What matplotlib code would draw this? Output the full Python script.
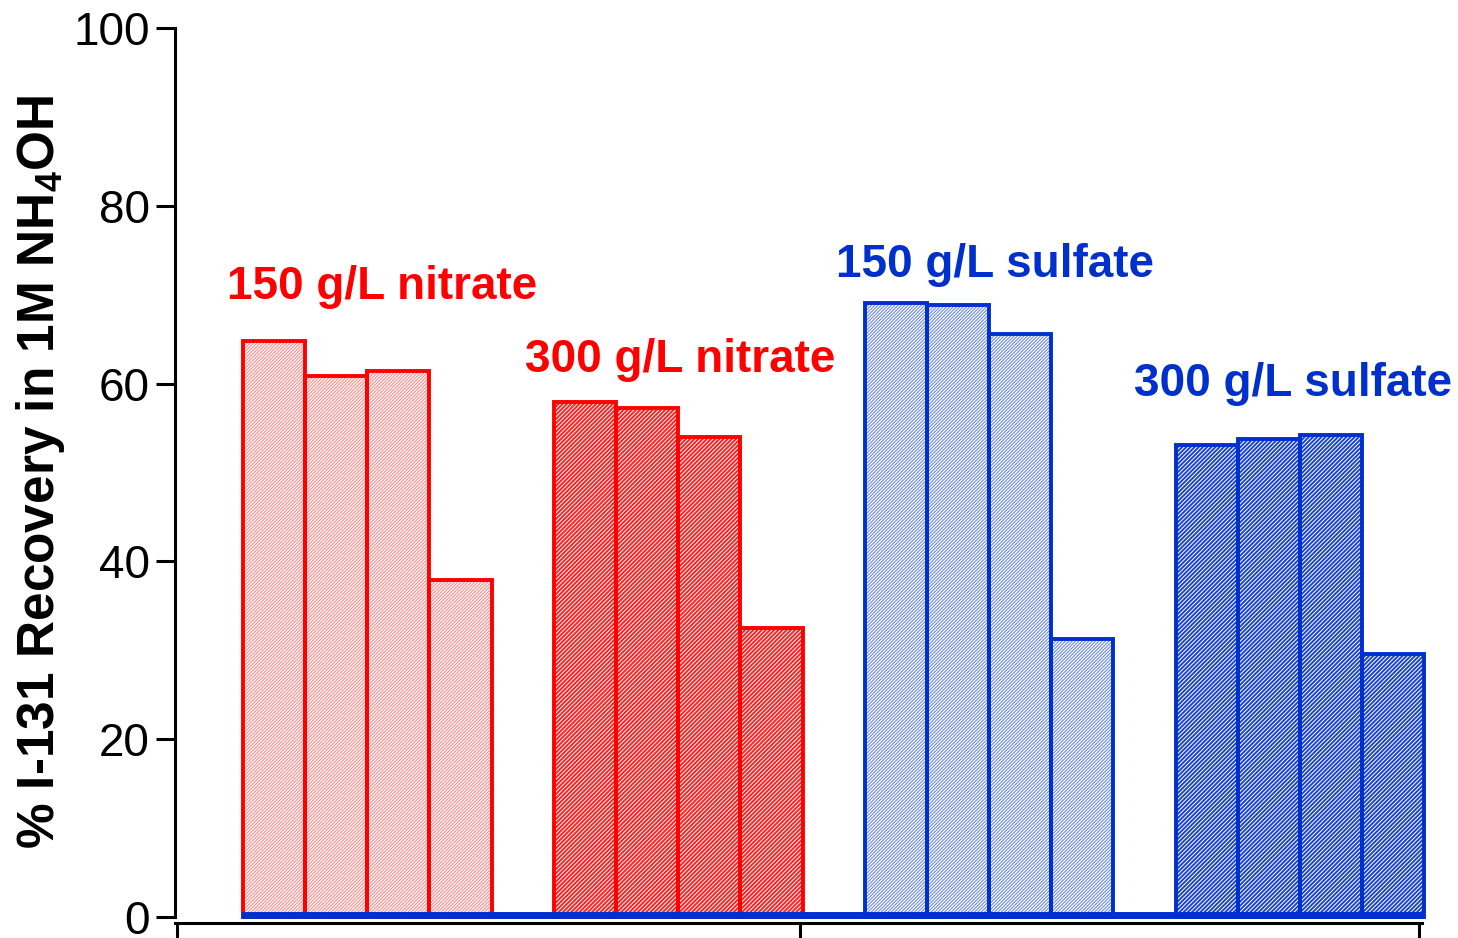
import matplotlib.pyplot as plt
import numpy as np

plt.rcParams['font.family'] = ['Liberation Sans', 'DejaVu Sans']
plt.rcParams['mathtext.fontset'] = 'custom'
plt.rcParams['mathtext.rm'] = 'Liberation Sans:bold'
plt.rcParams['mathtext.default'] = 'rm'

# --- data ---
groups = ['150 g/L nitrate', '300 g/L nitrate', '150 g/L sulfate', '300 g/L sulfate']
recovery = [
    [64.8, 60.9, 61.4, 37.9],
    [57.9, 57.3, 54.0, 32.5],
    [69.1, 68.8, 65.6, 31.3],
    [53.1, 53.8, 54.2, 29.6],
]
yticks = [0, 20, 40, 60, 80, 100]

RED = '#ff0000'
BLUE = '#0030cc'
edge_colors = [RED, RED, BLUE, BLUE]
hatch_colors = ['#ff8c8c', '#ff2020', '#6f8ae0', '#1a44d0']
hatches = ['//////////', '////////', '//////////', '////////']
hatch_lw = [0.8, 1.4, 0.8, 1.4]
label_pos = [(0.24, 70.9), (0.03, 62.7), (0.09, 73.3), (-0.12, 60.0)]

fig = plt.figure(figsize=(14.58, 9.38), dpi=100)
ax = fig.add_axes([0.120, 0.0224, 0.8553, 0.9477])

for g, vals in enumerate(recovery):
    x = g * 5 + np.arange(len(vals))
    plt.rcParams['hatch.linewidth'] = hatch_lw[g]
    ax.bar(x, vals, width=1.0, color='white', edgecolor=hatch_colors[g],
           hatch=hatches[g], linewidth=0, zorder=2, clip_on=False)
    ax.bar(x, vals, width=1.0, fill=False, edgecolor=edge_colors[g],
           linewidth=2.8, zorder=3, clip_on=False)
    dx, dy = label_pos[g]
    ax.text(g * 5 + 1.5 + dx, dy, groups[g], color=edge_colors[g],
            fontsize=33, fontweight='bold', ha='center', va='center')

# blue baseline along the bottoms, drawn over the bars
ax.plot([-0.53, 18.5], [0.2, 0.2], color=BLUE, linewidth=5, zorder=5,
        solid_capstyle='butt', clip_on=False)

ax.set_xlim(-1.59, 18.46)
ax.set_ylim(0, 100)
ax.set_yticks(yticks)
ax.set_yticklabels([str(t) for t in yticks], fontsize=33)
ax.set_xticks([-1.56, 8.46, 18.42])
ax.set_xticklabels([])
ax.tick_params(axis='y', direction='out', length=14, width=2.2, pad=4)
ax.tick_params(axis='x', direction='out', length=16, width=2.2)
for side in ['top', 'right']:
    ax.spines[side].set_visible(False)
for side in ['left', 'bottom']:
    ax.spines[side].set_linewidth(2.2)
ax.spines['bottom'].set_position(('outward', 4))

fig.text(0.028, 0.497, r'% I-131 Recovery in 1M NH$_4$OH', rotation=90,
         fontsize=37, fontweight='bold', ha='center', va='center')

plt.savefig('out.png', dpi=100)
